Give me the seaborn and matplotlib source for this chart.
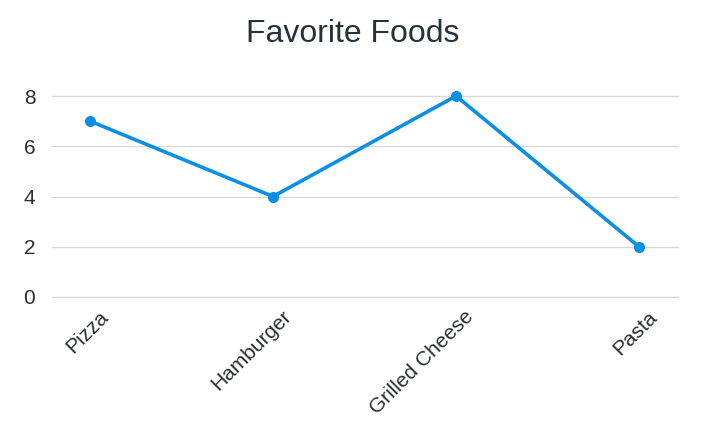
import matplotlib
matplotlib.use("Agg")
import matplotlib.pyplot as plt
import matplotlib.transforms as mtransforms
import seaborn as sns
import pandas as pd

foods = ["Pizza", "Hamburger", "Grilled Cheese", "Pasta"]
votes = [7, 4, 8, 2]
y_ticks = [0, 2, 4, 6, 8]

sns.set_theme(style="white")
plt.rcParams['font.family'] = ['Liberation Sans', 'DejaVu Sans']

df = pd.DataFrame({"food": foods, "votes": votes})

fig = plt.figure(figsize=(7.1, 4.32), dpi=100)
ax = fig.add_axes([52/710, (432-297)/432, (678-52)/710, (297-96)/432])

text_color = "#2b2f31"
line_color = "#0b8fe3"

sns.lineplot(data=df, x="food", y="votes", sort=False, ax=ax,
             color=line_color, linewidth=2.6, marker="o", markersize=8,
             markeredgewidth=0, zorder=3, clip_on=False)

ax.set_xlim(-0.208, 3.213)
ax.set_ylim(0, 8)
ax.set_yticks(y_ticks)
ax.set_yticklabels([str(v) for v in y_ticks])
for y in y_ticks:
    ax.axhline(y, color="#d9d9d9", linewidth=1, zorder=1, clip_on=False)

for s in ax.spines.values():
    s.set_visible(False)
ax.set_xlabel("")
ax.set_ylabel("")
ax.tick_params(axis="both", length=0, colors=text_color, labelsize=15)
ax.tick_params(axis="y", pad=12)

ax.set_xticks(range(len(foods)))
ax.set_xticklabels(foods, rotation=45, ha="right", va="center",
                   rotation_mode="anchor")
offset = mtransforms.ScaledTranslation(15/100, -12/100, fig.dpi_scale_trans)
for lbl in ax.get_xticklabels():
    lbl.set_transform(lbl.get_transform() + offset)

fig.text(353/710, 1 - 34/432, "Favorite Foods", ha="center", va="center",
         fontsize=23, color="#263238")

fig.savefig("out.png", dpi=100)
